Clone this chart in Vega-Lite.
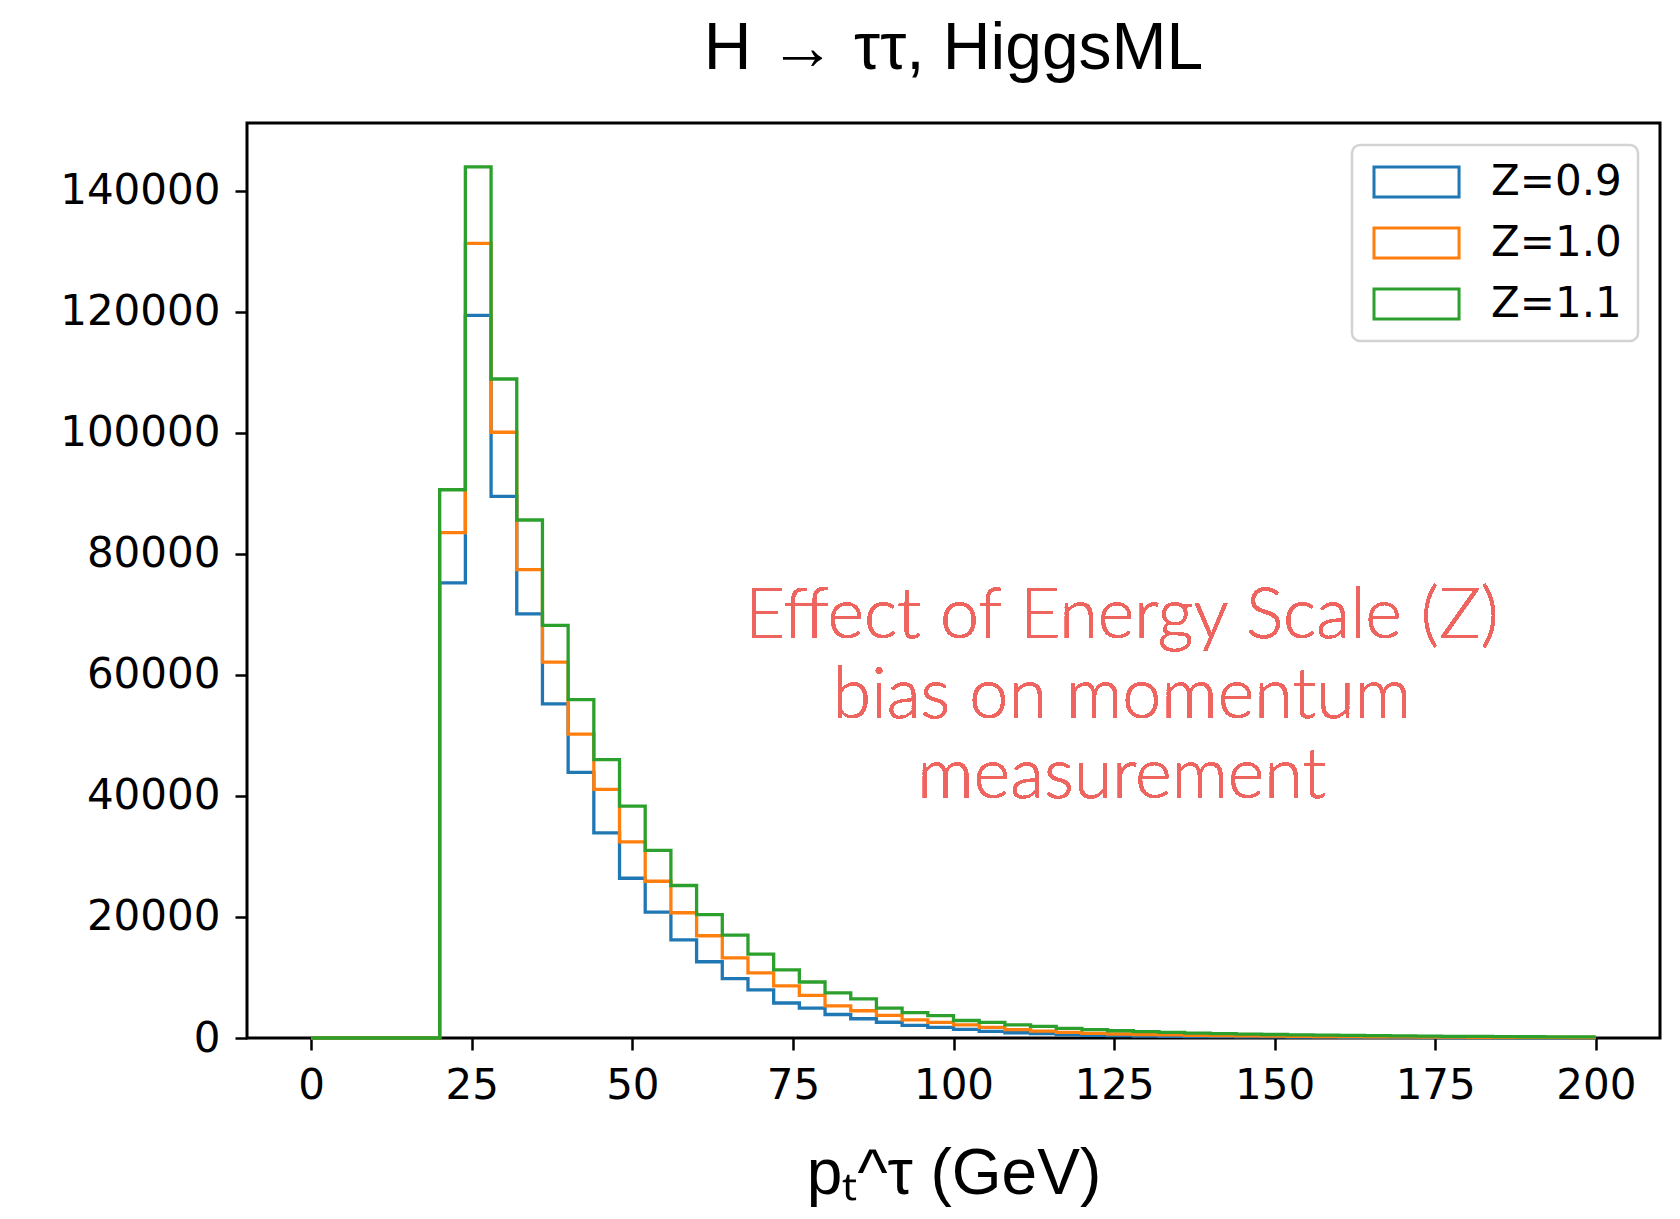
{
  "$schema": "https://vega.github.io/schema/vega-lite/v6.json",
  "autosize": {"type": "none"},
  "padding": {"left": 247, "top": 123, "right": 20, "bottom": 181},
  "width": 1413,
  "height": 915,
  "background": "white",
  "title": {
    "text": "H → ττ, HiggsML",
    "font": "Liberation Sans",
    "fontSize": 66,
    "fontWeight": "normal",
    "color": "black",
    "anchor": "middle",
    "baseline": "alphabetic",
    "offset": -12
  },
  "config": {
    "view": {"stroke": "black", "strokeWidth": 3},
    "axis": {
      "domain": false,
      "grid": false,
      "labelFont": "DejaVu Sans",
      "labelFontSize": 42,
      "labelColor": "black",
      "tickColor": "black",
      "tickWidth": 2.5,
      "tickSize": 12,
      "labelPadding": 15,
      "titleFont": "Liberation Sans",
      "titleFontWeight": "normal",
      "titleColor": "black"
    }
  },
  "data": {
    "values": [
      {"x": 0, "z09": 0, "z10": 0, "z11": 0},
      {"x": 4, "z09": 0, "z10": 0, "z11": 0},
      {"x": 8, "z09": 0, "z10": 0, "z11": 0},
      {"x": 12, "z09": 0, "z10": 0, "z11": 0},
      {"x": 16, "z09": 0, "z10": 0, "z11": 0},
      {"x": 20, "z09": 75200, "z10": 83500, "z11": 90600},
      {"x": 24, "z09": 119400, "z10": 131300, "z11": 143950},
      {"x": 28, "z09": 89500, "z10": 100100, "z11": 108900},
      {"x": 32, "z09": 70100, "z10": 77400, "z11": 85600},
      {"x": 36, "z09": 55200, "z10": 62100, "z11": 68200},
      {"x": 40, "z09": 43900, "z10": 50200, "z11": 55900},
      {"x": 44, "z09": 33900, "z10": 41100, "z11": 46000},
      {"x": 48, "z09": 26400, "z10": 32400, "z11": 38300},
      {"x": 52, "z09": 20800, "z10": 25900, "z11": 31000},
      {"x": 56, "z09": 16200, "z10": 20700, "z11": 25200},
      {"x": 60, "z09": 12600, "z10": 16900, "z11": 20400},
      {"x": 64, "z09": 9800, "z10": 13250, "z11": 17000},
      {"x": 68, "z09": 7950, "z10": 10750, "z11": 13850},
      {"x": 72, "z09": 5780, "z10": 8600, "z11": 11250},
      {"x": 76, "z09": 4950, "z10": 7050, "z11": 9250},
      {"x": 80, "z09": 3880, "z10": 5320, "z11": 7460},
      {"x": 84, "z09": 3180, "z10": 4500, "z11": 6450},
      {"x": 88, "z09": 2600, "z10": 3750, "z11": 4930},
      {"x": 92, "z09": 2070, "z10": 3000, "z11": 4200},
      {"x": 96, "z09": 1750, "z10": 2570, "z11": 3710},
      {"x": 100, "z09": 1420, "z10": 2180, "z11": 2890},
      {"x": 104, "z09": 1090, "z10": 1750, "z11": 2570},
      {"x": 108, "z09": 870, "z10": 1370, "z11": 2180},
      {"x": 112, "z09": 710, "z10": 1150, "z11": 1910},
      {"x": 116, "z09": 550, "z10": 930, "z11": 1580},
      {"x": 120, "z09": 440, "z10": 760, "z11": 1370},
      {"x": 124, "z09": 380, "z10": 660, "z11": 1200},
      {"x": 128, "z09": 330, "z10": 570, "z11": 1050},
      {"x": 132, "z09": 290, "z10": 500, "z11": 930},
      {"x": 136, "z09": 250, "z10": 440, "z11": 820},
      {"x": 140, "z09": 220, "z10": 390, "z11": 730},
      {"x": 144, "z09": 195, "z10": 345, "z11": 650},
      {"x": 148, "z09": 170, "z10": 305, "z11": 580},
      {"x": 152, "z09": 150, "z10": 270, "z11": 520},
      {"x": 156, "z09": 132, "z10": 240, "z11": 470},
      {"x": 160, "z09": 117, "z10": 215, "z11": 420},
      {"x": 164, "z09": 104, "z10": 190, "z11": 380},
      {"x": 168, "z09": 92, "z10": 170, "z11": 340},
      {"x": 172, "z09": 82, "z10": 155, "z11": 310},
      {"x": 176, "z09": 73, "z10": 140, "z11": 280},
      {"x": 180, "z09": 65, "z10": 125, "z11": 255},
      {"x": 184, "z09": 58, "z10": 112, "z11": 230},
      {"x": 188, "z09": 52, "z10": 100, "z11": 210},
      {"x": 192, "z09": 47, "z10": 90, "z11": 190},
      {"x": 196, "z09": 42, "z10": 82, "z11": 175},
      {"x": 200, "z09": 42, "z10": 82, "z11": 175}
    ]
  },
  "layer": [
    {
      "transform": [{"fold": ["z09", "z10", "z11"], "as": ["series", "count"]}],
      "mark": {"type": "line", "interpolate": "step-after", "strokeWidth": 3.3},
      "encoding": {
        "x": {
          "field": "x",
          "type": "quantitative",
          "scale": {"domain": [-10, 210], "nice": false, "zero": false},
          "axis": {
            "values": [0, 25, 50, 75, 100, 125, 150, 175, 200],
            "title": "pₜ^τ (GeV)",
            "titleFontSize": 64,
            "titlePadding": 36
          }
        },
        "y": {
          "field": "count",
          "type": "quantitative",
          "scale": {"domain": [0, 151200], "nice": false},
          "axis": {
            "values": [0, 20000, 40000, 60000, 80000, 100000, 120000, 140000],
            "format": "d",
            "title": null
          }
        },
        "color": {
          "field": "series",
          "type": "nominal",
          "scale": {"domain": ["z09", "z10", "z11"], "range": ["#1f77b4", "#ff7f0e", "#2ca02c"]},
          "legend": {
            "title": null,
            "orient": "top-right",
            "offset": 22,
            "labelExpr": "{'z09': 'Z=0.9', 'z10': 'Z=1.0', 'z11': 'Z=1.1'}[datum.label]",
            "labelFont": "DejaVu Sans",
            "labelFontSize": 42,
            "labelColor": "black",
            "labelOffset": 81,
            "symbolType": "M-1,-1H4.67V1H-1Z",
            "symbolSize": 900,
            "symbolStrokeWidth": 3,
            "symbolFillColor": "transparent",
            "padding": 16,
            "rowPadding": 19,
            "fillColor": "white",
            "strokeColor": "#d3d3d3",
            "cornerRadius": 8,
            "encode": {"legend": {"update": {"strokeWidth": {"value": 2.5}}}}
          }
        }
      }
    },
    {
      "mark": {
        "type": "text",
        "text": ["Effect of Energy Scale (Z)", "bias on momentum", "measurement"],
        "font": "Lato",
        "fontWeight": 300,
        "fontSize": 70,
        "lineHeight": 80,
        "color": "#ee6560",
        "align": "center",
        "baseline": "middle"
      },
      "encoding": {
        "x": {"datum": 126.2},
        "y": {"datum": 69600}
      }
    }
  ]
}
